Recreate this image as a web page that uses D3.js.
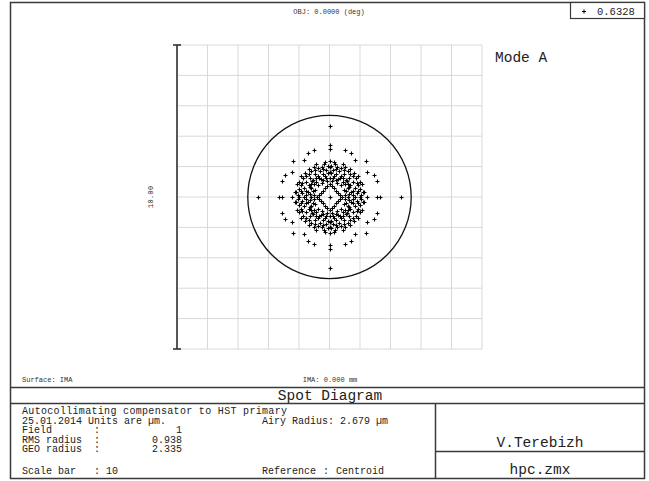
<!DOCTYPE html>
<html><head><meta charset="utf-8">
<script src="https://cdn.jsdelivr.net/npm/d3@7"></script>
<style>body{margin:0;background:#fff} svg{display:block}</style>
</head><body><svg id="c" width="649" height="481"></svg>
<script>
// ---------- data (µm, relative to centroid) ----------
const gridTicks = [-5,-4,-3,-2,-1,0,1,2,3,4,5];
const scaleBarRange = [-5, 5];
const scaleBarLabel = "10.00";
const airyRadius = 2.679;
const wavelengthLabels = ["0.6328"];
const infoLabels = ["Field", "RMS radius", "GEO radius", "Scale bar"];
const infoValues = ["1", "0.938", "2.335", "10"];

const spotCenterAxis = [
  [0,0],
  [0.42,0],[0.62,0],[0.82,0],[1.0,0],[1.23,0],[1.55,0],[1.66,0],[2.34,0],
  [-0.42,0],[-0.62,0],[-0.82,0],[-1.0,0],[-1.23,0],[-1.55,0],[-1.66,0],[-2.34,0],
  [0,0.42],[0,0.62],[0,0.82],[0,1.0],[0,1.2],[0,1.57],[0,1.70],[0,2.34],
  [0,-0.42],[0,-0.62],[0,-0.82],[0,-1.0],[0,-1.2],[0,-1.57],[0,-1.70],[0,-2.34]
];
const spotQ1 = [
  [0.07,0.35],[0.14,0.28],[0.21,0.21],[0.28,0.14],[0.35,0.07],
  [0.52,0.08],[0.47,0.24],[0.38,0.38],[0.24,0.47],[0.08,0.52],
  [0.64,0.10],[0.60,0.28],[0.50,0.43],[0.43,0.50],[0.28,0.60],[0.10,0.64],
  [0.78,0.05],[0.76,0.20],[0.68,0.38],[0.56,0.54],[0.54,0.56],[0.38,0.68],[0.20,0.76],[0.05,0.78],
  [0.90,0.12],[0.85,0.30],[0.76,0.48],[0.63,0.64],[0.48,0.76],[0.30,0.85],[0.12,0.90],
  [1.02,0.06],[0.99,0.26],[0.90,0.47],[0.76,0.68],[0.68,0.76],[0.47,0.90],[0.26,0.99],[0.06,1.02],
  [1.10,0.18],[1.00,0.50],[0.80,0.79],[0.50,1.00],[0.18,1.10],
  [0.70,0.16],[0.16,0.70],[0.44,0.62],[0.62,0.44],[0.95,0.38],[0.38,0.95],
  [1.14,0.16],[1.07,0.43],[0.93,0.68],[0.68,0.93],[0.43,1.07],[0.16,1.14],
  [0.55,0.20],[0.20,0.55],[0.64,0.34],[0.34,0.64],[0.93,0.20],[0.20,0.93],[0.86,0.62],[0.62,0.86],
  [0.52,1.55],[0.72,1.45],[0.83,1.22],[1.20,1.19],[1.23,0.82],[1.46,0.73],[1.55,0.51]
];
const spotQ2 = [
  [-0.07,0.35],[-0.14,0.28],[-0.21,0.21],[-0.28,0.14],[-0.35,0.07],
  [-0.52,0.08],[-0.47,0.24],[-0.38,0.38],[-0.24,0.47],[-0.08,0.52],
  [-0.64,0.10],[-0.60,0.28],[-0.50,0.43],[-0.43,0.50],[-0.28,0.60],[-0.10,0.64],
  [-0.78,0.05],[-0.76,0.20],[-0.68,0.38],[-0.56,0.54],[-0.54,0.56],[-0.38,0.68],[-0.20,0.76],[-0.05,0.78],
  [-0.90,0.12],[-0.85,0.30],[-0.76,0.48],[-0.63,0.64],[-0.48,0.76],[-0.30,0.85],[-0.12,0.90],
  [-1.02,0.06],[-0.99,0.26],[-0.90,0.47],[-0.76,0.68],[-0.68,0.76],[-0.47,0.90],[-0.26,0.99],[-0.06,1.02],
  [-1.10,0.18],[-1.00,0.50],[-0.80,0.79],[-0.50,1.00],[-0.18,1.10],
  [-0.70,0.16],[-0.16,0.70],[-0.44,0.62],[-0.62,0.44],[-0.95,0.38],[-0.38,0.95],
  [-1.14,0.16],[-1.07,0.43],[-0.93,0.68],[-0.68,0.93],[-0.43,1.07],[-0.16,1.14],
  [-0.55,0.20],[-0.20,0.55],[-0.64,0.34],[-0.34,0.64],[-0.93,0.20],[-0.20,0.93],[-0.86,0.62],[-0.62,0.86],
  [-0.52,1.55],[-0.72,1.45],[-0.83,1.22],[-1.20,1.19],[-1.23,0.82],[-1.46,0.73],[-1.55,0.51]
];
const spotQ3 = [
  [-0.07,-0.35],[-0.14,-0.28],[-0.21,-0.21],[-0.28,-0.14],[-0.35,-0.07],
  [-0.52,-0.08],[-0.47,-0.24],[-0.38,-0.38],[-0.24,-0.47],[-0.08,-0.52],
  [-0.64,-0.10],[-0.60,-0.28],[-0.50,-0.43],[-0.43,-0.50],[-0.28,-0.60],[-0.10,-0.64],
  [-0.78,-0.05],[-0.76,-0.20],[-0.68,-0.38],[-0.56,-0.54],[-0.54,-0.56],[-0.38,-0.68],[-0.20,-0.76],[-0.05,-0.78],
  [-0.90,-0.12],[-0.85,-0.30],[-0.76,-0.48],[-0.63,-0.64],[-0.48,-0.76],[-0.30,-0.85],[-0.12,-0.90],
  [-1.02,-0.06],[-0.99,-0.26],[-0.90,-0.47],[-0.76,-0.68],[-0.68,-0.76],[-0.47,-0.90],[-0.26,-0.99],[-0.06,-1.02],
  [-1.10,-0.18],[-1.00,-0.50],[-0.80,-0.79],[-0.50,-1.00],[-0.18,-1.10],
  [-0.70,-0.16],[-0.16,-0.70],[-0.44,-0.62],[-0.62,-0.44],[-0.95,-0.38],[-0.38,-0.95],
  [-1.14,-0.16],[-1.07,-0.43],[-0.93,-0.68],[-0.68,-0.93],[-0.43,-1.07],[-0.16,-1.14],
  [-0.55,-0.20],[-0.20,-0.55],[-0.64,-0.34],[-0.34,-0.64],[-0.93,-0.20],[-0.20,-0.93],[-0.86,-0.62],[-0.62,-0.86],
  [-0.52,-1.55],[-0.72,-1.45],[-0.83,-1.22],[-1.20,-1.19],[-1.23,-0.82],[-1.46,-0.73],[-1.55,-0.51]
];
const spotQ4 = [
  [0.07,-0.35],[0.14,-0.28],[0.21,-0.21],[0.28,-0.14],[0.35,-0.07],
  [0.52,-0.08],[0.47,-0.24],[0.38,-0.38],[0.24,-0.47],[0.08,-0.52],
  [0.64,-0.10],[0.60,-0.28],[0.50,-0.43],[0.43,-0.50],[0.28,-0.60],[0.10,-0.64],
  [0.78,-0.05],[0.76,-0.20],[0.68,-0.38],[0.56,-0.54],[0.54,-0.56],[0.38,-0.68],[0.20,-0.76],[0.05,-0.78],
  [0.90,-0.12],[0.85,-0.30],[0.76,-0.48],[0.63,-0.64],[0.48,-0.76],[0.30,-0.85],[0.12,-0.90],
  [1.02,-0.06],[0.99,-0.26],[0.90,-0.47],[0.76,-0.68],[0.68,-0.76],[0.47,-0.90],[0.26,-0.99],[0.06,-1.02],
  [1.10,-0.18],[1.00,-0.50],[0.80,-0.79],[0.50,-1.00],[0.18,-1.10],
  [0.70,-0.16],[0.16,-0.70],[0.44,-0.62],[0.62,-0.44],[0.95,-0.38],[0.38,-0.95],
  [1.14,-0.16],[1.07,-0.43],[0.93,-0.68],[0.68,-0.93],[0.43,-1.07],[0.16,-1.14],
  [0.55,-0.20],[0.20,-0.55],[0.64,-0.34],[0.34,-0.64],[0.93,-0.20],[0.20,-0.93],[0.86,-0.62],[0.62,-0.86],
  [0.52,-1.55],[0.72,-1.45],[0.83,-1.22],[1.20,-1.19],[1.23,-0.82],[1.46,-0.73],[1.55,-0.51]
];

// ---------- drawing ----------
const svg = d3.select("#c");
const mono = "'Courier New','Liberation Mono',monospace";
const frameColor = "#3a3a3a";

const x = d3.scaleLinear().domain([-5,5]).range([177,482]);
const y = d3.scaleLinear().domain([-5,5]).range([349,45]);

// outer frame
svg.append("rect").attr("x",10.5).attr("y",2.5).attr("width",634).attr("height",476)
  .attr("fill","none").attr("stroke",frameColor).attr("stroke-width",1.5);

// grid
const grid = svg.append("g").attr("stroke","#d9d9d9").attr("stroke-width",1);
grid.selectAll("line.v").data(gridTicks).join("line").attr("class","v")
  .attr("x1",d=>x(d)).attr("x2",d=>x(d)).attr("y1",y(5)).attr("y2",y(-5));
grid.selectAll("line.h").data(gridTicks).join("line").attr("class","h")
  .attr("y1",d=>y(d)).attr("y2",d=>y(d)).attr("x1",x(-5)).attr("x2",x(5));

// scale bar
const sb = svg.append("g").attr("stroke","#333").attr("stroke-width",1.6);
sb.append("line").attr("x1",x(-5)).attr("x2",x(-5)).attr("y1",y(scaleBarRange[1])).attr("y2",y(scaleBarRange[0]));
sb.selectAll("line.cap").data(scaleBarRange).join("line").attr("class","cap")
  .attr("x1",x(-5)-4).attr("x2",x(-5)+4).attr("y1",d=>y(d)).attr("y2",d=>y(d));
svg.append("text").attr("transform",`translate(153,${y(0)}) rotate(-90)`)
  .attr("text-anchor","middle").attr("font-family",mono).attr("font-size",7.5).attr("fill","#333")
  .text(scaleBarLabel);

// airy circle
svg.append("circle").attr("cx",x(0)).attr("cy",y(0)).attr("r",x(airyRadius)-x(0))
  .attr("fill","none").attr("stroke","#111").attr("stroke-width",1.3);

// spots
const allSpots = [].concat(spotCenterAxis, spotQ1, spotQ2, spotQ3, spotQ4);
const arm = 2;
svg.append("g").selectAll("path").data(allSpots).join("path")
  .attr("d",d=>{const px=Math.round(x(d[0]))+0.5, py=Math.round(y(d[1]))+0.5;
     return `M${px-arm},${py}H${px+arm}M${px},${py-arm}V${py+arm}`;})
  .attr("stroke","#000").attr("stroke-width",1.1).attr("fill","none");

// header
svg.append("text").attr("x",329).attr("y",14).attr("text-anchor","middle")
  .attr("font-family",mono).attr("font-size",7).attr("fill","#333").text("OBJ: 0.0000 (deg)");

// legend box
svg.append("rect").attr("x",570.5).attr("y",2.5).attr("width",74).attr("height",16)
  .attr("fill","#fff").attr("stroke",frameColor).attr("stroke-width",1.2);
svg.append("path").attr("d","M582,11.5H586M584,9.5V13.5").attr("stroke","#000").attr("stroke-width",1);
svg.selectAll("text.wl").data(wavelengthLabels).join("text").attr("class","wl")
  .attr("x",597).attr("y",15).attr("font-family",mono).attr("font-size",10.5).attr("fill","#222").text(d=>d);

svg.append("text").attr("x",495).attr("y",62).attr("font-family",mono).attr("font-size",14.5)
  .attr("fill","#222").text("Mode A");

// lower labels
svg.append("text").attr("x",22).attr("y",382).attr("font-family",mono).attr("font-size",7).attr("fill","#333").text("Surface: IMA");
svg.append("text").attr("x",330).attr("y",382).attr("text-anchor","middle").attr("font-family",mono).attr("font-size",7).attr("fill","#333").text("IMA: 0.000 mm");

// title block lines
const tb = svg.append("g").attr("stroke",frameColor).attr("stroke-width",1.5);
tb.append("line").attr("x1",10).attr("x2",645).attr("y1",387.5).attr("y2",387.5);
tb.append("line").attr("x1",10).attr("x2",645).attr("y1",403.5).attr("y2",403.5);
tb.append("line").attr("x1",435.5).attr("x2",435.5).attr("y1",403.5).attr("y2",478.5);
tb.append("line").attr("x1",435.5).attr("x2",645).attr("y1",451.5).attr("y2",451.5);

svg.append("text").attr("x",330).attr("y",400).attr("text-anchor","middle").attr("font-family",mono)
  .attr("font-size",14.5).attr("fill","#222").text("Spot Diagram");
svg.append("text").attr("x",540).attr("y",447).attr("text-anchor","middle").attr("font-family",mono)
  .attr("font-size",14.5).attr("fill","#222").text("V.Terebizh");
svg.append("text").attr("x",540).attr("y",474).attr("text-anchor","middle").attr("font-family",mono)
  .attr("font-size",14.5).attr("fill","#222").text("hpc.zmx");

const fs = 10;
const lineY = [414, 423.5, 433, 442.5, 452, 474];
const t = svg.append("g").attr("font-family",mono).attr("font-size",fs).attr("fill","#222");
t.append("text").attr("x",22).attr("y",lineY[0]).attr("textLength",265).attr("lengthAdjust","spacing")
  .text("Autocollimating compensator to HST primary");
t.append("text").attr("x",22).attr("y",lineY[1]).text("25.01.2014  Units are \u00b5m.");
t.append("text").attr("x",262).attr("y",lineY[1]).text("Airy Radius: 2.679 \u00b5m");
infoLabels.forEach((lab,i)=>{
  const yy = lineY[i+2];
  t.append("text").attr("x",22).attr("y",yy).text(lab);
  t.append("text").attr("x",94).attr("y",yy).text(":");
  if (i < 3) t.append("text").attr("x",182).attr("y",yy).attr("text-anchor","end").text(infoValues[i]);
  else t.append("text").attr("x",106).attr("y",yy).text(infoValues[i]);
});
t.append("text").attr("x",262).attr("y",lineY[5]).text("Reference");
t.append("text").attr("x",323).attr("y",lineY[5]).text(":");
t.append("text").attr("x",336).attr("y",lineY[5]).text("Centroid");
</script></body></html>
